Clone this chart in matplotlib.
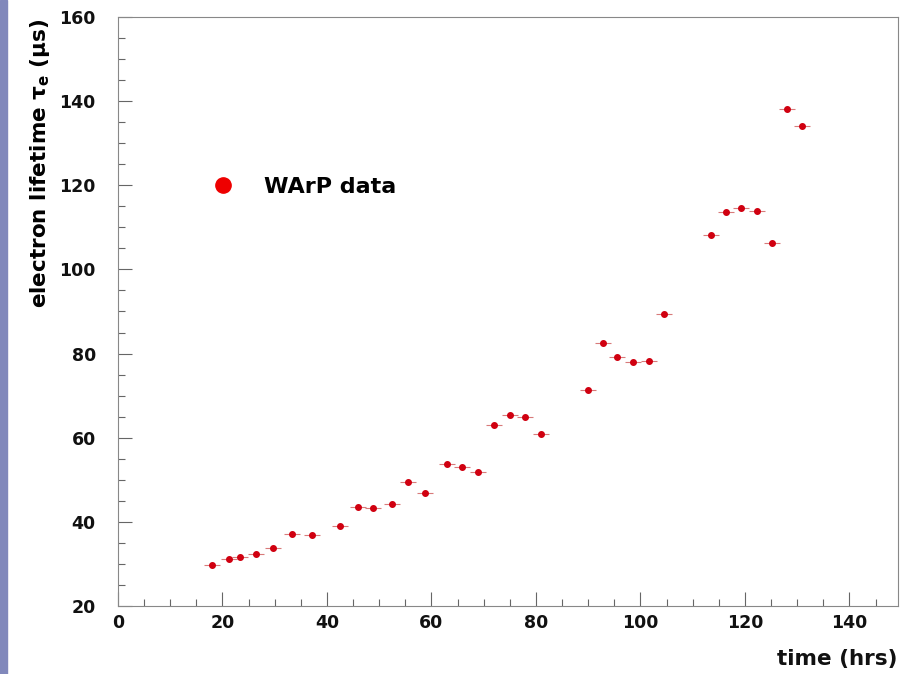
import numpy as np
import matplotlib.pyplot as plt
from matplotlib.patches import Rectangle

plt.rcParams['font.family'] = ['DejaVu Sans']
plt.rcParams['mathtext.fontset'] = 'dejavusans'
plt.rcParams['mathtext.default'] = 'bf'

# electron lifetime measurements vs time
t_hrs = [18.0, 21.2, 23.3, 26.4, 29.7, 33.3, 37.1, 42.5, 45.9, 48.8, 52.4,
         55.5, 58.8, 63.0, 65.8, 68.9, 72.0, 75.0, 77.9, 81.0, 90.0, 92.8,
         95.5, 98.6, 101.6, 104.5, 113.5, 116.4, 119.2, 122.3, 125.2, 128.0,
         130.9]
tau_us = [29.8, 31.2, 31.7, 32.4, 33.8, 37.1, 36.9, 39.0, 43.6, 43.3, 44.3,
          49.5, 46.9, 53.8, 53.1, 51.9, 63.1, 65.5, 65.0, 61.0, 71.4, 82.6,
          79.3, 77.9, 78.3, 89.5, 108.1, 113.6, 114.5, 114.0, 106.4, 138.1,
          134.0]
t_err = 1.5
tau_err = 0.4

fig = plt.figure(figsize=(9.03, 6.74), dpi=100)
fig.patches.append(Rectangle((0, 0), 7 / 903, 1, transform=fig.transFigure,
                             color='#8188bb', zorder=0))

ax = fig.add_axes([118 / 903, 1 - 606 / 674, 780 / 903, 589 / 674])
ax.errorbar(t_hrs, tau_us, xerr=t_err, yerr=tau_err, fmt='o', color='#d00010',
            ecolor='#d87a7a', elinewidth=0.8, capsize=0, markersize=4)
ax.plot([], [], 'o', color='#ee0000', markersize=11, label='WArP data')

ax.set_xlim(0, 149.3)
ax.set_ylim(20, 160)
ax.set_xticks(np.arange(0, 141, 20))
ax.set_yticks(np.arange(20, 161, 20))
ax.set_xticks(np.arange(0, 149, 5), minor=True)
ax.set_yticks(np.arange(20, 161, 5), minor=True)
ax.tick_params(which='both', direction='in', colors='#666666',
               labelcolor='#111111', labelsize=12.5)
ax.tick_params(which='major', length=10, width=0.8)
ax.tick_params(which='minor', length=5, width=0.8)
ax.tick_params(axis='y', which='both', pad=16)
ax.tick_params(axis='x', which='both', pad=6)
for lbl in ax.get_xticklabels() + ax.get_yticklabels():
    lbl.set_fontweight('bold')
for s in ax.spines.values():
    s.set_color('#888888')
    s.set_linewidth(0.8)

ax.set_ylabel(r'electron lifetime $\tau_e$ ($\mu$s)', fontsize=15.5,
              fontweight='bold')
ax.yaxis.set_label_coords(-0.084, 0.997)
ax.yaxis.label.set_horizontalalignment('right')
fig.text(898 / 903, 1 - 659 / 674, 'time (hrs)', ha='right', va='center',
         fontsize=15.5, fontweight='bold', color='#111111')

leg = ax.legend(loc='upper left', bbox_to_anchor=(0.08, 0.763), frameon=False,
                handletextpad=0.85, prop={'weight': 'bold', 'size': 16})

fig.savefig('out.png', dpi=100)
